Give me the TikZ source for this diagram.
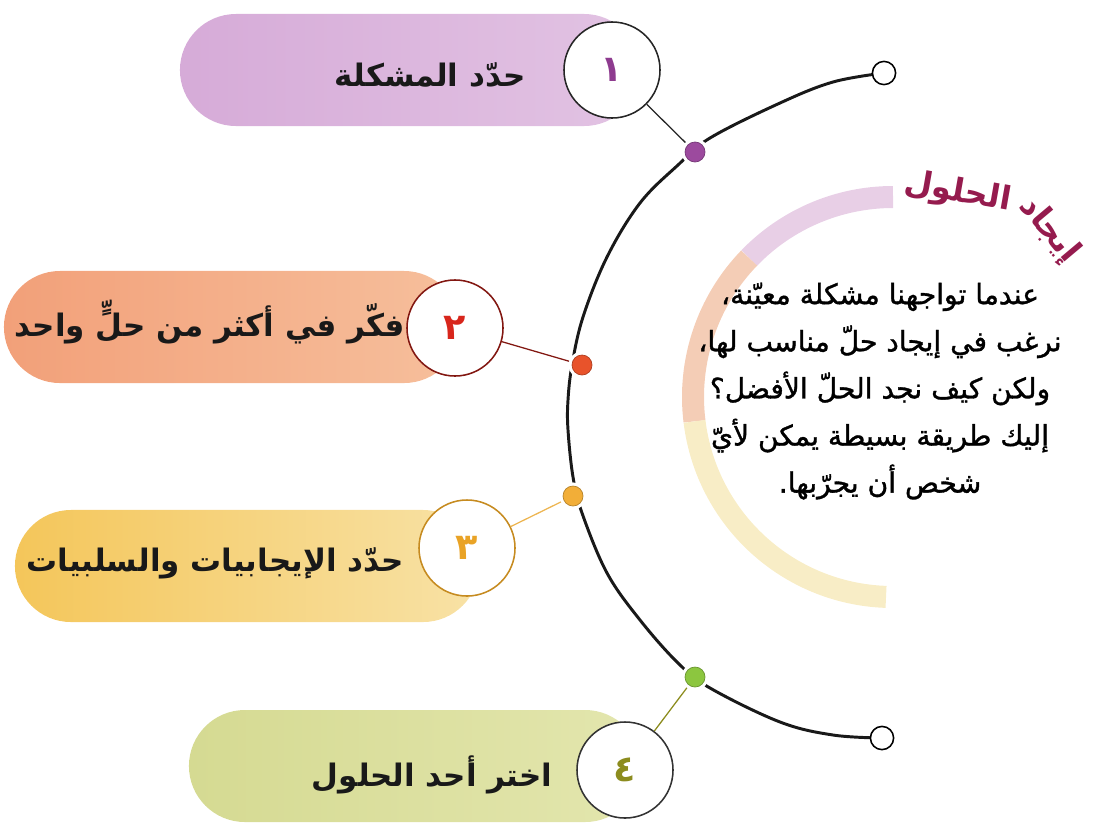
\documentclass[tikz,border=0pt]{standalone}
\usepackage{fontspec}
\usetikzlibrary{shapes.misc,positioning}
\newfontfamily\arabicfont[Script=Arabic]{DejaVu Sans}
\newfontfamily\arabicmed[Script=Arabic,FakeBold=1.2]{DejaVu Sans}
\TeXXeTstate=1

\definecolor{lilacL}{HTML}{D6ABD8}
\definecolor{lilacR}{HTML}{E2C3E3}
\definecolor{salmonL}{HTML}{F2A079}
\definecolor{salmonR}{HTML}{F6BF9C}
\definecolor{goldL}{HTML}{F4C65A}
\definecolor{goldR}{HTML}{F8E2A6}
\definecolor{limeL}{HTML}{D5DA92}
\definecolor{limeR}{HTML}{E3E6AE}
\definecolor{numpurple}{HTML}{8E3B8F}
\definecolor{numred}{HTML}{D8261C}
\definecolor{numgold}{HTML}{E9A326}
\definecolor{numolive}{HTML}{8C8C1E}
\definecolor{dotpurple}{HTML}{9C4A9E}
\definecolor{dotred}{HTML}{E8532B}
\definecolor{dotgold}{HTML}{F2AE38}
\definecolor{dotgreen}{HTML}{8CC63F}
\definecolor{ringpink}{HTML}{E8CFE6}
\definecolor{ringsalmon}{HTML}{F4CDB6}
\definecolor{ringcream}{HTML}{F8EDC6}
\definecolor{titlered}{HTML}{951B4E}

\begin{document}
\begin{tikzpicture}[x=0.025cm,y=-0.025cm,
  pill/.style={rounded rectangle, inner sep=0pt, minimum height=2.8cm},
  pilltext/.style={font=\arabicfont\bfseries\fontsize{22}{26}\selectfont, text=black!90},
  titletext/.style={font=\arabicfont\bfseries\fontsize{23}{26}\selectfont, text=titlered, inner sep=0pt},
  numcirc/.style={circle, draw=#1, fill=white, line width=1.1pt, minimum size=2.4cm, inner sep=0pt,
    font=\arabicfont\bfseries\fontsize{26}{30}\selectfont},
  dot/.style={circle, fill=#1, draw=#1!75!black, line width=0.5pt, minimum size=0.5cm, inner sep=0pt,
    outer sep=2.5pt, preaction={draw=white, line width=5pt}},
  endcirc/.style={circle, draw=black, fill=white, line width=1.1pt, minimum size=0.58cm, inner sep=0pt},
  bigarc/.style={line width=2.1pt, black!90},
  ring/.style={line width=0.55cm}]

\useasboundingbox (0,0) rectangle (1095,824);

% pastel ring behind the text
\draw[ring, ringpink] (893,197) arc[start angle=-90, end angle=-136, radius=200];
\draw[ring, ringsalmon] (893,397) ++(-136:200) arc[start angle=-136, end angle=-187, radius=200];
\draw[ring, ringcream] (893,397) ++(-187:200) arc[start angle=-187, end angle=-268, radius=200];

\node[titletext, rotate=-10] (title1) at (958,193) {\beginR الحلول\endR};
\node[titletext, rotate=-50] (title2) at (1049,230) {\beginR إيجاد\endR};

\node[font=\arabicmed\fontsize{20}{33.5}\selectfont, align=center] (intro) at (880,391) {%
  \beginR عندما تواجهنا مشكلة معيّنة،\endR\\
  \beginR نرغب في إيجاد حلّ مناسب لها،\endR\\
  \beginR ولكن كيف نجد الحلّ الأفضل؟\endR\\
  \beginR إليك طريقة بسيطة يمكن لأيّ\endR\\
  \beginR شخص أن يجرّبها.\endR};

% the four steps
\node[pill, left color=lilacL, right color=lilacR, minimum width=11.5cm] (p1) at (410,70) {};
\node[pill, left color=salmonL, right color=salmonR, minimum width=11.4cm] (p2) at (232,327) {};
\node[pill, left color=goldL, right color=goldR, minimum width=11.6cm] (p3) at (247,566) {};
\node[pill, left color=limeL, right color=limeR, minimum width=11.3cm] (p4) at (415,766) {};

\node[pilltext] (s1) at (430,75) {\beginR حدّد المشكلة\endR};
\node[pilltext] (s2) at (210,322) {\beginR فكّر في أكثر من حلٍّ واحد\endR};
\node[pilltext] (s3) at (215,563) {\beginR حدّد الإيجابيات والسلبيات\endR};
\node[pilltext] (s4) at (432,775) {\beginR اختر أحد الحلول\endR};

% the main arc
\coordinate (e1) at (884,73);
\coordinate (e2) at (882,738);
\draw[bigarc] plot[smooth, tension=0.6] coordinates {(e1) (833,82) (780,103) (710,138) (678,165)
  (640,203) (607,257) (583,317) (572,365) (568,400) (568,430) (573,477) (582,513) (607,573)
  (640,620) (678,663) (710,688) (780,722) (833,735) (e2)};

\node[endcirc] (top) at (e1) {};
\node[endcirc] (bottom) at (e2) {};

\node[dot=dotpurple] (d1) at (695,152) {};
\node[dot=dotred] (d2) at (582,365) {};
\node[dot=dotgold] (d3) at (573,496) {};
\node[dot=dotgreen] (d4) at (695,677) {};

\node[numcirc=black!85, text=numpurple] (c1) at (612,70) {\beginR ١\endR};
\node[numcirc=numred!60!black, text=numred] (c2) at (455,328) {\beginR ٢\endR};
\node[numcirc=numgold!85!black, text=numgold] (c3) at (467,548) {\beginR ٣\endR};
\node[numcirc=black!80, text=numolive] (c4) at (625,770) {\beginR ٤\endR};

\draw[line width=0.9pt, black!85] (c1) -- (d1);
\draw[line width=0.9pt, numred!60!black] (c2) -- (d2);
\draw[line width=0.9pt, numgold!80!white] (c3) -- (d3);
\draw[line width=0.9pt, numolive] (c4) -- (d4);

\end{tikzpicture}
\end{document}
